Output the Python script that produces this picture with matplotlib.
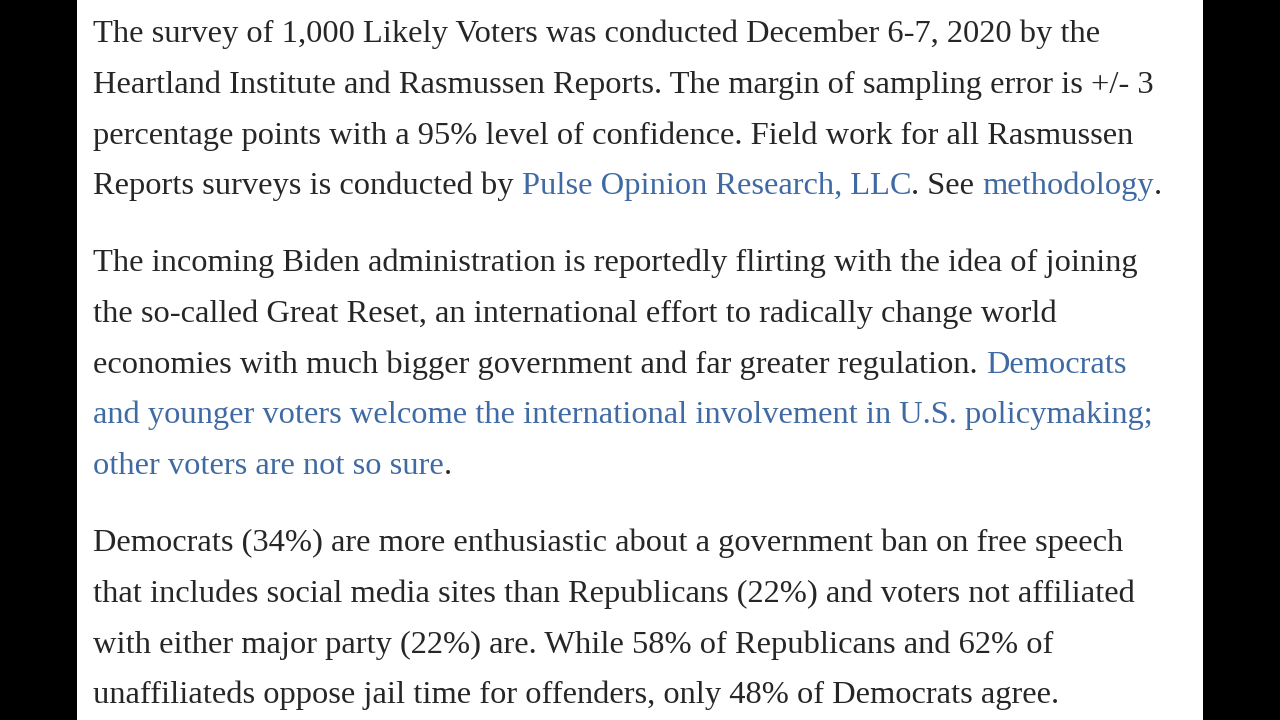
import matplotlib.pyplot as plt
from matplotlib.patches import Rectangle

# text of the page, line by line; each line is a list of (text, is_link) pieces
para1 = [
    [("The survey of 1,000 Likely Voters was conducted December 6-7, 2020 by the", False)],
    [("Heartland Institute and Rasmussen Reports. The margin of sampling error is +/- 3", False)],
    [("percentage points with a 95% level of confidence. Field work for all Rasmussen", False)],
    [("Reports surveys is conducted by ", False), ("Pulse Opinion Research, LLC", True),
     (". See ", False), ("methodology", True), (".", False)],
]
para2 = [
    [("The incoming Biden administration is reportedly flirting with the idea of joining", False)],
    [("the so-called Great Reset, an international effort to radically change world", False)],
    [("economies with much bigger government and far greater regulation. ", False), ("Democrats", True)],
    [("and younger voters welcome the international involvement in U.S. policymaking;", True)],
    [("other voters are not so sure", True), (".", False)],
]
para3 = [
    [("Democrats (34%) are more enthusiastic about a government ban on free speech", False)],
    [("that includes social media sites than Republicans (22%) and voters not affiliated", False)],
    [("with either major party (22%) are. While 58% of Republicans and 62% of", False)],
    [("unaffiliateds oppose jail time for offenders, only 48% of Democrats agree.", False)],
]
# baseline of the first line of each paragraph (pixels from top)
para_top = [42, 271, 551]

text_col = "#262626"
link_col = "#3f6aa3"
font = "Liberation Serif"
fsize = 23.4
line_gap = 50.8
left = 93

fig = plt.figure(figsize=(12.8, 7.2), dpi=100, facecolor="black")
ax = fig.add_axes([0, 0, 1, 1])
ax.set_xlim(0, 1280)
ax.set_ylim(720, 0)
ax.axis("off")
ax.add_patch(Rectangle((77, 0), 1126, 720, facecolor="white", edgecolor="none"))

renderer = fig.canvas.get_renderer()


def width_of(s):
    t = ax.text(0, 0, s, fontsize=fsize, family=font)
    bb = t.get_window_extent(renderer)
    t.remove()
    return bb.width


space_w = width_of("x x") - width_of("xx")

for para, y0 in zip([para1, para2, para3], para_top):
    for i, line in enumerate(para):
        y = y0 + i * line_gap
        prefix = ""
        for piece, is_link in line:
            stripped = prefix.rstrip(" ")
            x = left + (width_of(stripped) if stripped else 0) + space_w * (len(prefix) - len(stripped))
            ax.text(x, y, piece.lstrip(" ") if False else piece, fontsize=fsize, family=font,
                    color=link_col if is_link else text_col, va="baseline", ha="left")
            prefix += piece

fig.savefig("out.png", dpi=100, facecolor="black")
